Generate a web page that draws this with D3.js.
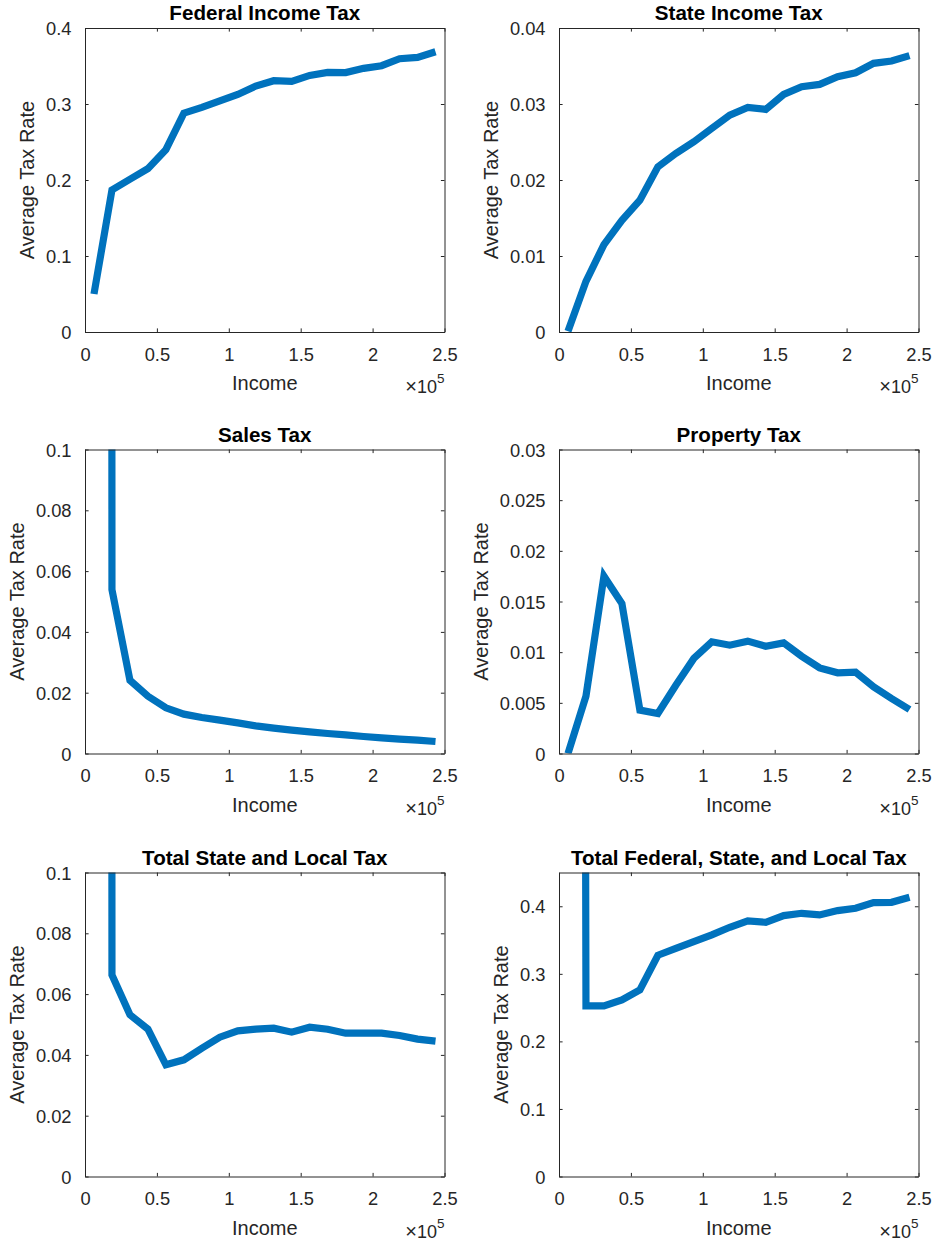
<!DOCTYPE html>
<html><head><meta charset="utf-8">
<script src="https://cdn.jsdelivr.net/npm/d3@7"></script>
<style>
body{margin:0;background:#fff}
svg{display:block}
text{font-family:"Liberation Sans",Arial,Helvetica,sans-serif}
</style>
</head><body>
<svg id="chart" width="935" height="1245"></svg>
<script>
// ---- data ----
const income = [6250, 18750, 31250, 43750, 56250, 68750, 81250, 93750, 106250, 118750,
                131250, 143750, 156250, 168750, 181250, 193750, 206250, 218750, 231250, 243750];

const federalIncomeTax = [0.050, 0.187, 0.201, 0.215, 0.240, 0.288, 0.2955, 0.304, 0.3126, 0.3236,
                          0.3306, 0.3297, 0.3376, 0.3416, 0.3414, 0.3469, 0.3504, 0.3596, 0.3614, 0.3688];
const stateIncomeTax = [0.0001, 0.00667, 0.0115, 0.0147, 0.01734, 0.02173, 0.02349, 0.02503, 0.02678, 0.02854,
                        0.02955, 0.02929, 0.03126, 0.03227, 0.03258, 0.03359, 0.03411, 0.03535, 0.03565, 0.03636];
const salesTax = [12.0, 0.0539, 0.0241, 0.01886, 0.01502, 0.01294, 0.01184, 0.01096, 0.01009, 0.0091,
                  0.00833, 0.00768, 0.00713, 0.00658, 0.00614, 0.00559, 0.00515, 0.00471, 0.00439, 0.00395];
const propertyTax = [0.0, 0.00566, 0.0175, 0.0148, 0.00428, 0.00395, 0.00674, 0.00938, 0.01102, 0.01069,
                     0.01109, 0.01059, 0.01092, 0.0096, 0.00845, 0.00796, 0.00803, 0.00658, 0.00543, 0.00434];
const totalStateLocalTax = [12.0, 0.0663, 0.0532, 0.04846, 0.03673, 0.03838, 0.04221, 0.04583, 0.04792, 0.04846,
                            0.04879, 0.04748, 0.04912, 0.04846, 0.04715, 0.04715, 0.04715, 0.04638, 0.04518, 0.04452];
const totalTax = [12.05, 0.2525, 0.2525, 0.2615, 0.2762, 0.3275, 0.3378, 0.3477, 0.3576, 0.3689,
                  0.3783, 0.3763, 0.3862, 0.3896, 0.3872, 0.3936, 0.397, 0.4054, 0.4059, 0.4133];

const titles = ["Federal Income Tax", "State Income Tax", "Sales Tax", "Property Tax",
                "Total State and Local Tax", "Total Federal, State, and Local Tax"];
const yMaxes = [0.4, 0.04, 0.1, 0.03, 0.1, 0.45];

const xTicks = [0, 50000, 100000, 150000, 200000, 250000];
const xTickLabels = ["0", "0.5", "1", "1.5", "2", "2.5"];

const yTicks1 = [0, 0.1, 0.2, 0.3, 0.4];
const yTickLabels1 = ["0", "0.1", "0.2", "0.3", "0.4"];
const yTicks2 = [0, 0.01, 0.02, 0.03, 0.04];
const yTickLabels2 = ["0", "0.01", "0.02", "0.03", "0.04"];
const yTicks3 = [0, 0.02, 0.04, 0.06, 0.08, 0.1];
const yTickLabels3 = ["0", "0.02", "0.04", "0.06", "0.08", "0.1"];
const yTicks4 = [0, 0.005, 0.01, 0.015, 0.02, 0.025, 0.03];
const yTickLabels4 = ["0", "0.005", "0.01", "0.015", "0.02", "0.025", "0.03"];

const xLabel = "Income";
const yLabel = "Average Tax Rate";

// ---- layout ----
const colLeft = [85, 559];
const rowTop = [28, 449.5, 872.5];
const W = 359.5, H = 304;
const lineColor = "#0072BD";
const axisColor = "#262626";
const tickLen = 3.6;

const panels = [
  {title: titles[0], values: federalIncomeTax, ymax: yMaxes[0], ticks: yTicks1, labels: yTickLabels1},
  {title: titles[1], values: stateIncomeTax, ymax: yMaxes[1], ticks: yTicks2, labels: yTickLabels2},
  {title: titles[2], values: salesTax, ymax: yMaxes[2], ticks: yTicks3, labels: yTickLabels3},
  {title: titles[3], values: propertyTax, ymax: yMaxes[3], ticks: yTicks4, labels: yTickLabels4},
  {title: titles[4], values: totalStateLocalTax, ymax: yMaxes[4], ticks: yTicks3, labels: yTickLabels3},
  {title: titles[5], values: totalTax, ymax: yMaxes[5], ticks: yTicks1, labels: yTickLabels1}
];

const svg = d3.select("#chart");
const defs = svg.append("defs");
defs.append("clipPath").attr("id", "plotclip")
  .append("rect").attr("x", 0).attr("y", 0).attr("width", W).attr("height", H);

panels.forEach((p, i) => {
  const col = i % 2, row = Math.floor(i / 2);
  const g = svg.append("g").attr("transform", `translate(${colLeft[col]},${rowTop[row]})`);
  const x = d3.scaleLinear().domain([0, 250000]).range([0, W]);
  const y = d3.scaleLinear().domain([0, p.ymax]).range([H, 0]);

  // data line
  const line = d3.line().x((d, j) => x(income[j])).y(d => y(d));
  g.append("path")
    .datum(p.values)
    .attr("clip-path", "url(#plotclip)")
    .attr("fill", "none")
    .attr("stroke", lineColor)
    .attr("stroke-width", 7.2)
    .attr("stroke-linejoin", "miter")
    .attr("stroke-miterlimit", 4)
    .attr("stroke-linecap", "butt")
    .attr("d", line);

  // axes (bottom, top, left, right) with inward ticks
  const bottom = d3.axisBottom(x).tickValues(xTicks).tickSizeInner(-tickLen).tickSizeOuter(0)
    .tickFormat((d, k) => xTickLabels[k]).tickPadding(16);
  const top = d3.axisTop(x).tickValues(xTicks).tickSizeInner(-tickLen).tickSizeOuter(0).tickFormat("");
  const left = d3.axisLeft(y).tickValues(p.ticks).tickSizeInner(-tickLen).tickSizeOuter(0)
    .tickFormat((d, k) => p.labels[k]).tickPadding(13.5);
  const right = d3.axisRight(y).tickValues(p.ticks).tickSizeInner(-tickLen).tickSizeOuter(0).tickFormat("");

  const gb = g.append("g").attr("transform", `translate(0,${H})`).call(bottom);
  const gt = g.append("g").call(top);
  const gl = g.append("g").call(left);
  const gr = g.append("g").attr("transform", `translate(${W},0)`).call(right);

  [gb, gt, gl, gr].forEach(a => {
    a.select(".domain").attr("stroke", axisColor).attr("stroke-width", 1);
    a.selectAll(".tick line").attr("stroke", axisColor).attr("stroke-width", 1);
    a.selectAll(".tick text").attr("fill", axisColor).style("font-size", "18.3px")
      .style("font-family", '"Liberation Sans", Arial, sans-serif');
  });
  gb.selectAll(".tick text").attr("dy", "0.71em");
  gl.selectAll(".tick text").attr("dy", "0.36em");

  // title
  g.append("text")
    .attr("x", W / 2).attr("y", -8)
    .attr("text-anchor", "middle")
    .style("font-size", "20.6px").style("font-weight", "bold")
    .attr("fill", "#000")
    .text(p.title);

  // x label
  g.append("text")
    .attr("x", W / 2).attr("y", H + 58)
    .attr("text-anchor", "middle")
    .style("font-size", "20px")
    .attr("fill", axisColor)
    .text(xLabel);

  // exponent
  const ex = g.append("text")
    .attr("x", W).attr("y", H + 61)
    .attr("text-anchor", "end")
    .style("font-size", "18px")
    .attr("fill", axisColor);
  ex.append("tspan").style("font-size", "20px").text("\u00d7");
  ex.append("tspan").text("10");
  ex.append("tspan").attr("dy", -10).style("font-size", "13.5px").text("5");

  // y label, placed left of the widest tick label
  let minX = 0;
  gl.selectAll(".tick text").each(function() {
    const b = this.getBBox();
    if (b.x < minX) minX = b.x;
  });
  const lx = minX - 12;
  g.append("text")
    .attr("transform", `translate(${lx},${H / 2}) rotate(-90)`)
    .attr("text-anchor", "middle")
    .style("font-size", "20px")
    .attr("fill", axisColor)
    .text(yLabel);
});
</script>
</body></html>
